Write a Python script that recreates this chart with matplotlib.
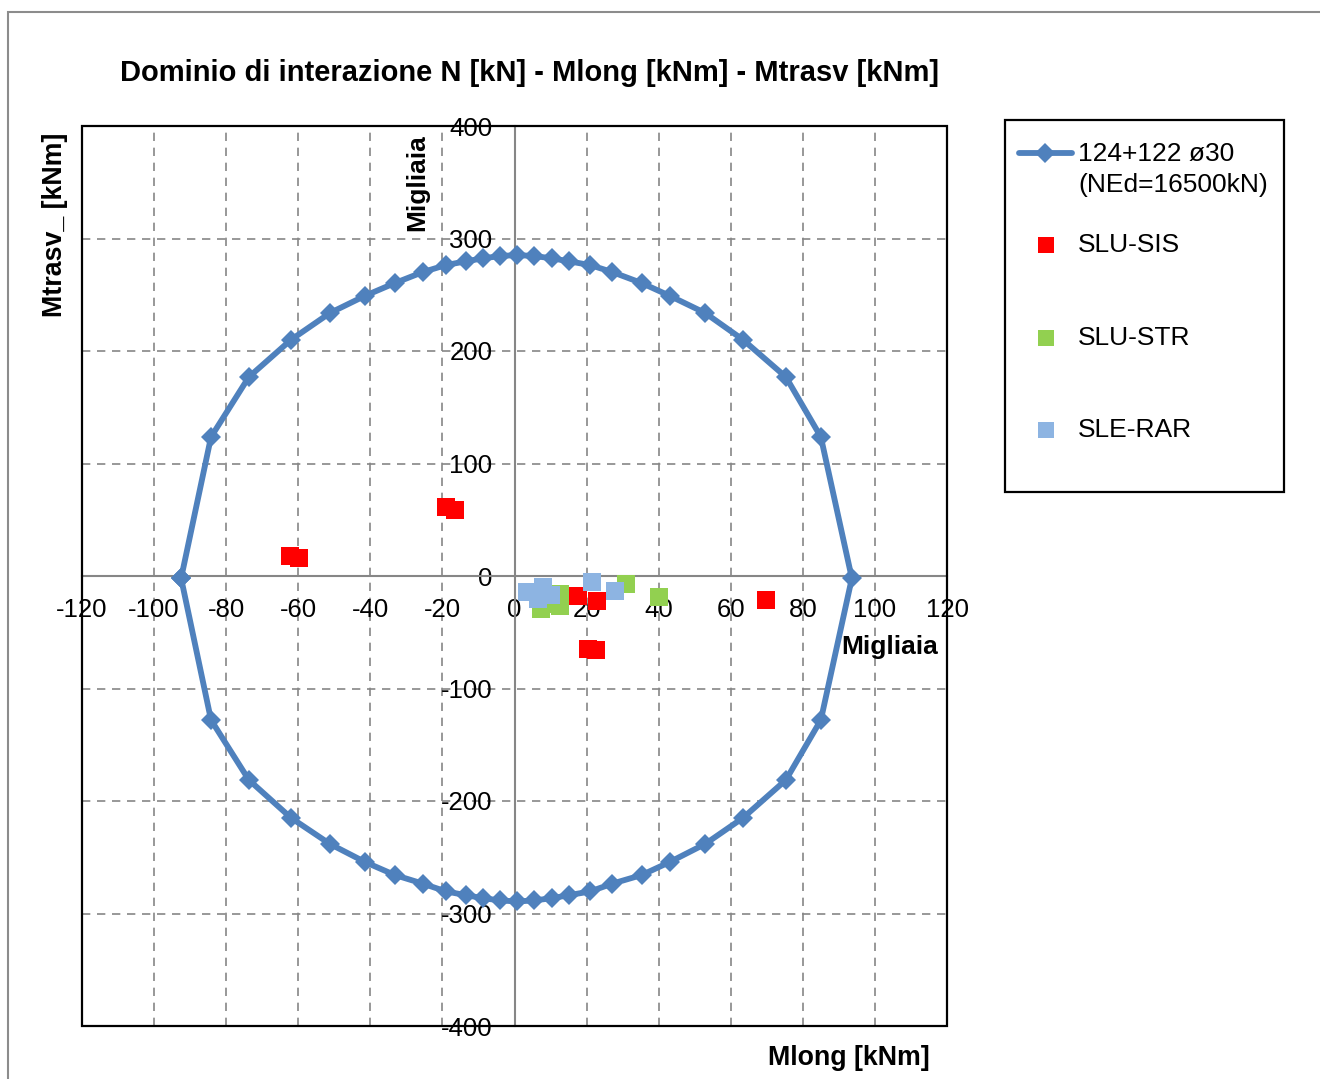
import matplotlib
matplotlib.use("Agg")
import matplotlib.pyplot as plt
from matplotlib.lines import Line2D
from matplotlib.patches import Rectangle

plt.rcParams['font.family'] = ['Liberation Sans', 'DejaVu Sans']

# ---------------- data ----------------
# interaction domain, upper half (left -> right)
dom_up_x = [-92.5, -84.2, -73.7, -62.0, -51.2, -41.5, -33.2, -25.4, -19.0, -13.5, -8.7, -4.0,
            0.7, 5.4, 10.4, 15.1, 21.0, 27.1, 35.3, 43.1, 52.9, 63.4, 75.3, 85.0, 93.6]
dom_up_y = [-2, 123.6, 176.9, 210.0, 233.8, 249.0, 260.4, 270.2, 276.4, 279.7, 282.4, 284.4,
            285.3, 284.4, 282.4, 279.7, 276.4, 270.2, 260.4, 249.0, 233.8, 210.0, 176.9, 123.6, -2]
# lower half (right -> left)
dom_lo_x = [85.0, 75.3, 63.4, 52.9, 43.1, 35.3, 27.1, 21.0, 15.1, 10.4, 5.4,
            0.7, -4.0, -8.7, -13.5, -19.0, -25.4, -33.2, -41.5, -51.2, -62.0, -73.7, -84.2, -92.5]
dom_lo_y = [-128.0, -181.3, -215.0, -238.2, -254.2, -265.8, -273.5, -280.4, -283.7, -286.4, -288.4,
            -289.3, -288.4, -286.4, -283.7, -280.4, -273.5, -265.8, -254.2, -238.2, -215.0, -181.3, -128.0, -2]

sis_x = [-62.3, -59.9, -19.0, -16.5, 69.8, 20.4, 22.6, 17.6, 22.9]
sis_y = [17.8, 16.4, 60.9, 58.7, -20.9, -64.9, -66.2, -17.8, -22.2]

str_x = [7.4, 10.5, 12.6, 12.6, 30.8, 40.0]
str_y = [-29.0, -25.0, -16.0, -26.5, -7.1, -19.1]

rar_x = [3.5, 6.5, 8.0, 10.0, 21.4, 27.9]
rar_y = [-14.0, -20.0, -10.0, -17.0, -5.1, -13.3]

x_ticks = [-120, -100, -80, -60, -40, -20, 0, 20, 40, 60, 80, 100, 120]
y_ticks = [-400, -300, -200, -100, 0, 100, 200, 300, 400]

series_labels = ["124+122 ø30\n(NEd=16500kN)", "SLU-SIS", "SLU-STR", "SLE-RAR"]
title = "Dominio di interazione N [kN] - Mlong [kNm] - Mtrasv [kNm]"

# ---------------- style ----------------
C_DOM = "#4F81BD"
C_SIS = "#FF0000"
C_STR = "#92D050"
C_RAR = "#8DB4E2"
GRID = "#868686"

W, H = 1320, 1079
fig = plt.figure(figsize=(W / 100, H / 100), dpi=100)

def fx(px):
    return px / W

def fy(py):
    return 1 - py / H

# outer chart-area border
fig.add_artist(Rectangle((fx(8), fy(1100)), fx(1400), fy(12) - fy(1100),
                         transform=fig.transFigure, fill=False, edgecolor="#8c8c8c", lw=1.5))

ax = fig.add_axes([fx(82), fy(1026), fx(947) - fx(82), fy(126) - fy(1026)])
ax.set_xlim(-120, 120)
ax.set_ylim(-400, 400)
ax.set_xticks(x_ticks)
ax.set_yticks(y_ticks)
ax.set_xticklabels([str(v) for v in x_ticks])
ax.set_yticklabels([str(v) for v in y_ticks])

for s in ["top", "right"]:
    ax.spines[s].set_visible(False)
ax.spines["left"].set_position(("data", 0))
ax.spines["bottom"].set_position(("data", 0))
for s in ["left", "bottom"]:
    ax.spines[s].set_color(GRID)
    ax.spines[s].set_linewidth(1.5)
    ax.spines[s].set_zorder(1)

ax.tick_params(axis="x", length=0, pad=15.5, labelsize=18.5)
ax.tick_params(axis="y", length=0, pad=16, labelsize=18.5)
ax.grid(True, color=GRID, linestyle=(0, (5, 4)), linewidth=1.2, zorder=0)
ax.set_axisbelow(True)

# black frame of plot area
ax.add_patch(Rectangle((0, 0), 1, 1, transform=ax.transAxes, fill=False,
                       edgecolor="black", lw=1.6, clip_on=False, zorder=5))

# domain
dom_x = dom_up_x + dom_lo_x + [dom_up_x[0]]
dom_y = dom_up_y + dom_lo_y + [dom_up_y[0]]
ax.plot(dom_x, dom_y, color=C_DOM, lw=4.2, marker="D", ms=10.5, mew=0, zorder=3,
        solid_joinstyle="round")

# load points
ax.scatter(sis_x, sis_y, marker="s", s=180, color=C_SIS, linewidths=0, zorder=4)
ax.scatter(str_x, str_y, marker="s", s=180, color=C_STR, linewidths=0, zorder=4)
ax.scatter(rar_x, rar_y, marker="s", s=180, color=C_RAR, linewidths=0, zorder=4)

# titles / labels
fig.text(fx(529), fy(73), title, ha="center", va="center", fontsize=21, fontweight="bold")
fig.text(fx(55), fy(225), "Mtrasv_ [kNm]", ha="center", va="center", rotation=90,
         fontsize=19.3, fontweight="bold")
fig.text(fx(849), fy(1058), "Mlong [kNm]", ha="center", va="center",
         fontsize=19.3, fontweight="bold")
fig.text(fx(417), fy(183), "Migliaia", ha="center", va="center", rotation=90,
         fontsize=19, fontweight="bold")
fig.text(fx(890), fy(647), "Migliaia", ha="center", va="center",
         fontsize=19, fontweight="bold")

# legend (manual box)
fig.add_artist(Rectangle((fx(1005), fy(492)), fx(1284) - fx(1005), fy(120) - fy(492),
                         transform=fig.transFigure, fill=False, edgecolor="black", lw=1.6))
fig.add_artist(Line2D([fx(1019), fx(1072)], [fy(153), fy(153)], transform=fig.transFigure,
                      color=C_DOM, lw=4.2, solid_capstyle="round"))
fig.add_artist(Line2D([fx(1045)], [fy(153)], transform=fig.transFigure,
                      color=C_DOM, marker="D", ms=10, mew=0, lw=0))
fig.text(fx(1078), fy(169.5), series_labels[0], ha="left", va="center", fontsize=19,
         linespacing=1.32)
for lab, col, py in zip(series_labels[1:], [C_SIS, C_STR, C_RAR], [245, 338, 430]):
    fig.add_artist(Line2D([fx(1046)], [fy(py)], transform=fig.transFigure,
                          color=col, marker="s", ms=11.5, mew=0, lw=0))
    fig.text(fx(1078), fy(py), lab, ha="left", va="center", fontsize=19)

fig.savefig("out.png", dpi=100)
